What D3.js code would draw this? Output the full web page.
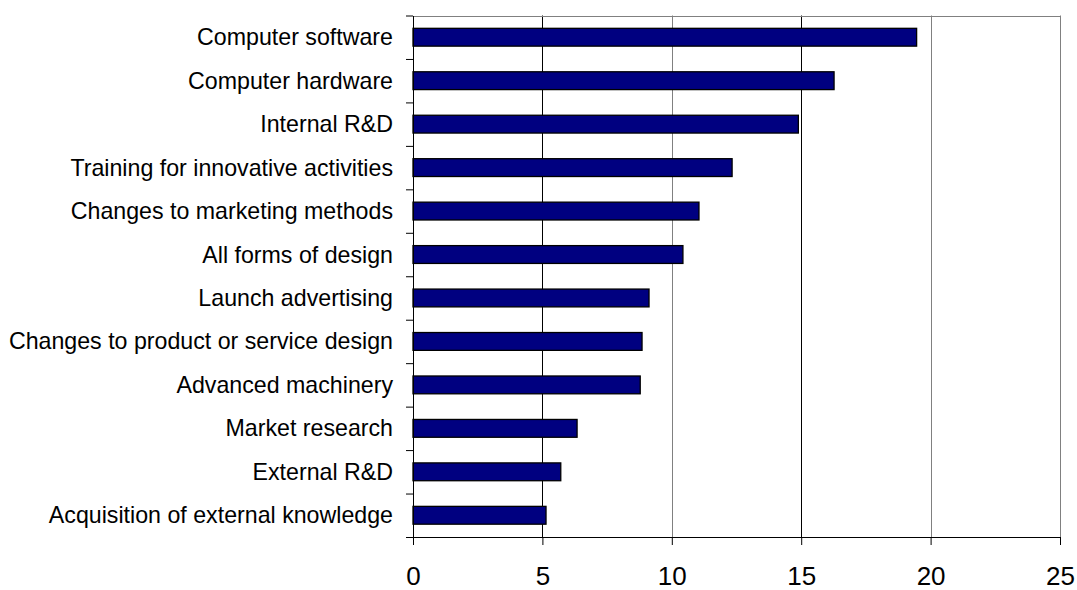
<!DOCTYPE html>
<html>
<head>
<meta charset="utf-8">
<script src="https://cdn.jsdelivr.net/npm/d3@7"></script>
<style>
  html, body { margin: 0; padding: 0; background: #fff; overflow: hidden; }
  svg { display: block; font-family: "Liberation Sans", Arial, sans-serif; }
</style>
</head>
<body>
<svg id="chart" width="1077" height="590"></svg>
<script>
// Innovation activities, ordered from largest share to smallest
const categories = [
  "Computer software",
  "Computer hardware",
  "Internal R&D",
  "Training for innovative activities",
  "Changes to marketing methods",
  "All forms of design",
  "Launch advertising",
  "Changes to product or service design",
  "Advanced machinery",
  "Market research",
  "External R&D",
  "Acquisition of external knowledge"
];
const values = [19.46, 16.27, 14.89, 12.33, 11.05, 10.43, 9.12, 8.85, 8.78, 6.34, 5.71, 5.14];
const xTicks = [0, 5, 10, 15, 20, 25];

const svg = d3.select("#chart");
const plot = { left: 413, right: 1060, top: 15.5, bottom: 537 };

const x = d3.scaleLinear().domain([0, 25]).range([plot.left, plot.right]);
const y = d3.scaleBand()
  .domain(categories)
  .range([plot.top, plot.bottom])
  .paddingInner(0.59)
  .paddingOuter(0.295);

// Vertical gridlines
svg.append("g")
  .selectAll("line")
  .data(xTicks.filter(t => t > 0))
  .join("line")
  .attr("x1", d => Math.round(x(d)) + 0.5)
  .attr("x2", d => Math.round(x(d)) + 0.5)
  .attr("y1", plot.top)
  .attr("y2", plot.bottom)
  .attr("stroke", (d, i) => (d === 25 ? "#808080" : (i % 2 === 0 ? "#000" : "#808080")))
  .attr("stroke-width", 1);

// Top border of the plot area
svg.append("line")
  .attr("x1", plot.left).attr("x2", Math.round(x(25)) + 0.5)
  .attr("y1", Math.round(plot.top) + 0.5).attr("y2", Math.round(plot.top) + 0.5)
  .attr("stroke", "#808080");

// Bars
svg.append("g")
  .selectAll("rect")
  .data(categories)
  .join("rect")
  .attr("x", x(0))
  .attr("y", d => y(d))
  .attr("width", (d, i) => x(values[i]) - x(0))
  .attr("height", y.bandwidth())
  .attr("fill", "#000080")
  .attr("stroke", "#000")
  .attr("stroke-width", 1.3);

// Category axis: tick marks at band boundaries
const boundary = d3.scaleLinear().domain([0, categories.length]).range([plot.top, plot.bottom]);
svg.append("g")
  .attr("transform", `translate(${Math.round(plot.left)},0)`)
  .call(d3.axisLeft(boundary)
    .tickValues(d3.range(categories.length + 1))
    .tickFormat("")
    .tickSize(7)
    .tickSizeOuter(0))
  .call(g => g.selectAll("line, path").attr("stroke", "#000"));

// Category labels
svg.append("g")
  .selectAll("text")
  .data(categories)
  .join("text")
  .attr("x", plot.left - 20)
  .attr("y", d => y(d) + y.bandwidth() / 2 + 8)
  .attr("text-anchor", "end")
  .attr("font-size", "23.2px")
  .attr("fill", "#000")
  .text(d => d);

// Value axis
svg.append("g")
  .attr("transform", `translate(0,${Math.round(plot.bottom)})`)
  .call(d3.axisBottom(x)
    .tickValues(xTicks)
    .tickSize(8)
    .tickSizeOuter(0)
    .tickPadding(22))
  .call(g => g.selectAll("line, path").attr("stroke", "#000"))
  .call(g => g.selectAll("text")
    .attr("font-size", "26px")
    .attr("font-family", "'Liberation Sans', Arial, sans-serif")
    .attr("fill", "#000"));
</script>
</body>
</html>
